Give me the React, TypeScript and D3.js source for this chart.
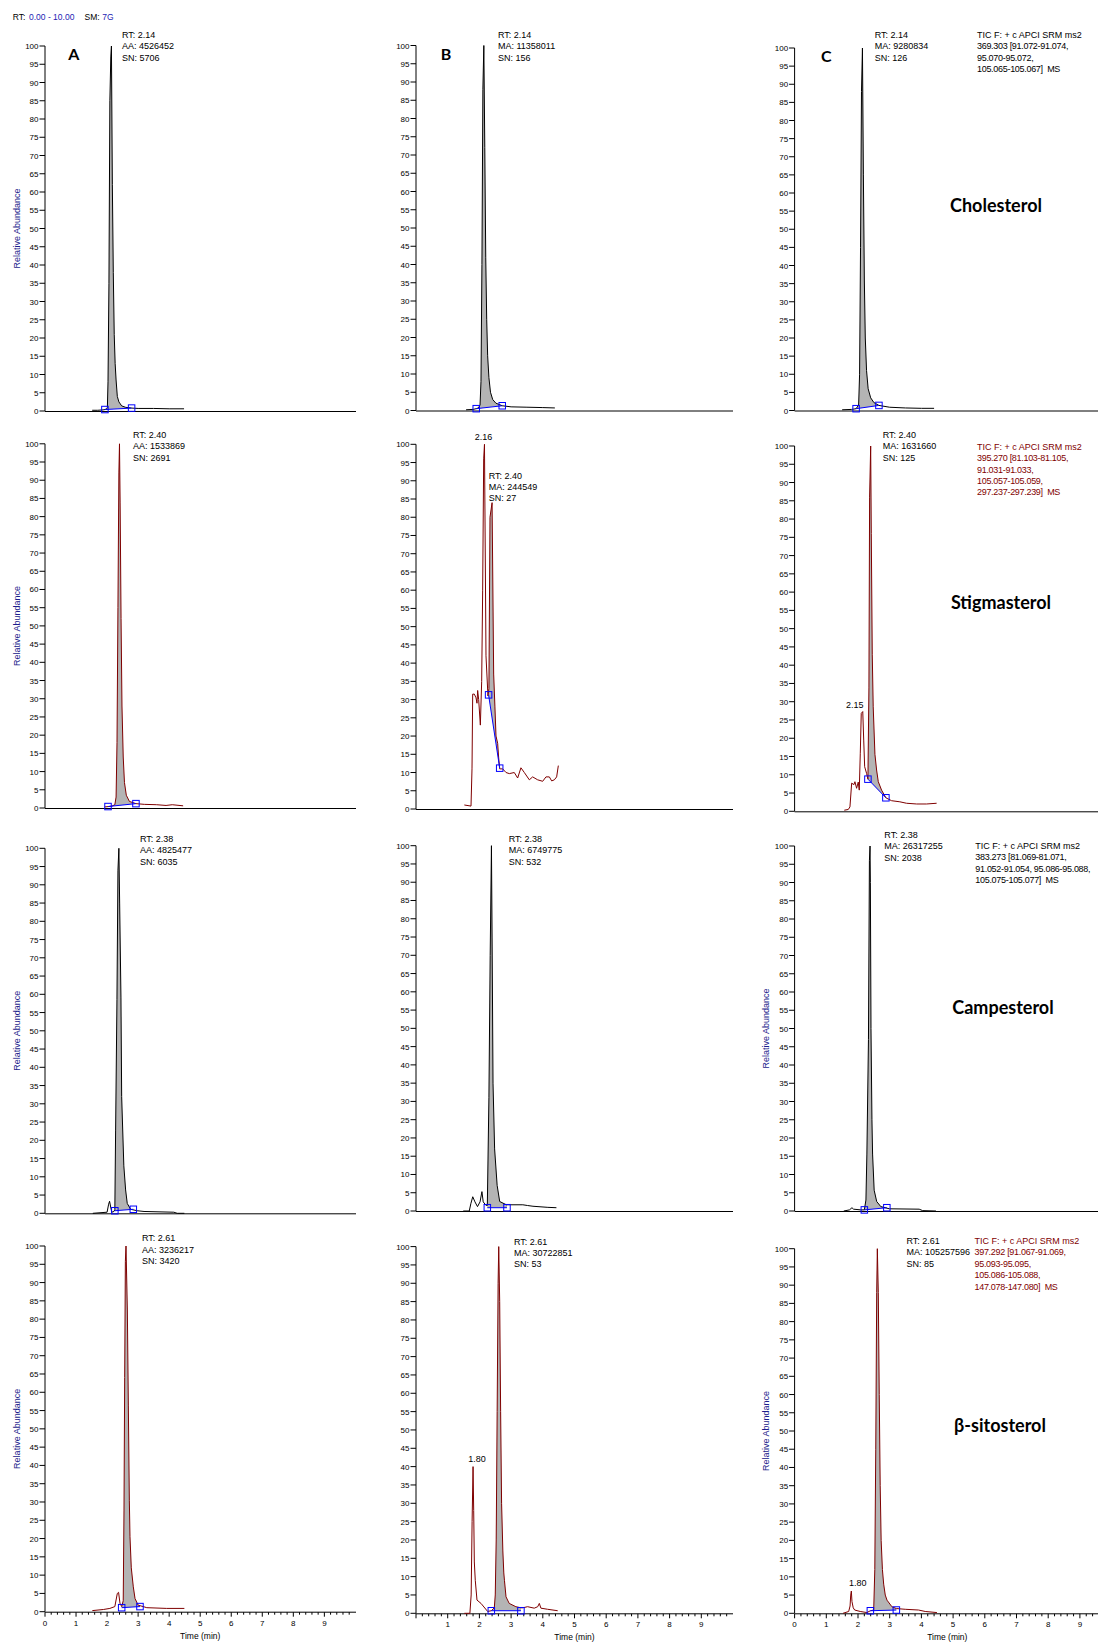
import React from "react";
import * as d3 from "d3";

type Pt = [number, number];

// ---- run header -----------------------------------------------------------
const HEADER_RANGE = "0.00 - 10.00";
const HEADER_SMOOTH = "7G";

// ---- axes -----------------------------------------------------------------
const COLUMN_LETTERS = ["A", "B", "C"];
const COMPOUNDS = ["Cholesterol", "Stigmasterol", "Campesterol", "β-sitosterol"];
const Y_TICKS = d3.range(0, 101, 5);
const X_MAJOR = d3.range(0, 10, 1);
const X_MINOR = d3.range(0, 50).map((i) => +(i * 0.2).toFixed(1));

// ---- chromatogram traces: [retention time (min), relative abundance (%)] ----
const cholA: Pt[] = [[1.52,0.2],[1.70,0.2],[1.87,0.3],[1.93,0.4],[1.99,0.6],[2.01,1],[2.03,8],[2.06,35],[2.09,85],[2.12,97],[2.14,100],[2.17,62],[2.20,38],[2.23,21],[2.26,13],[2.29,8.5],[2.33,4],[2.38,2.5],[2.47,1.4],[2.60,1.0],[2.79,0.8],[3.00,0.7],[3.50,0.7],[4.00,0.6],[4.48,0.6]];
const cholB: Pt[] = [[1.58,0.2],[1.80,0.3],[1.90,0.5],[1.97,0.7],[2.02,1.5],[2.05,8],[2.08,40],[2.11,88],[2.14,100],[2.17,72],[2.20,42],[2.23,25],[2.26,15],[2.30,9],[2.35,5],[2.42,3],[2.52,2],[2.72,1.3],[3.00,1.0],[3.50,0.9],[4.00,0.8],[4.38,0.7]];
const cholC: Pt[] = [[1.50,0.2],[1.80,0.3],[1.94,0.5],[2.02,1.5],[2.05,10],[2.08,45],[2.11,88],[2.14,100],[2.17,65],[2.20,36],[2.23,20],[2.27,11],[2.32,6],[2.40,3.5],[2.50,2.2],[2.66,1.4],[3.00,0.9],[3.50,0.7],[4.00,0.6],[4.40,0.6]];

const stigA: Pt[] = [[1.92,0.3],[2.05,0.4],[2.15,0.5],[2.25,0.9],[2.29,3],[2.32,18],[2.35,55],[2.38,92],[2.40,100],[2.42,84],[2.45,52],[2.48,28],[2.52,14],[2.56,7],[2.62,3.5],[2.72,1.8],[2.93,1.2],[3.20,1.0],[3.60,0.9],[3.90,0.7],[4.10,0.9],[4.45,0.6]];
const stigB: Pt[] = [[1.525,1.1],[1.735,0.8],[1.767,11],[1.788,31.5],[1.84,31.5],[1.893,30.5],[1.924,29],[1.945,32.5],[1.977,30],[2.03,23],[2.072,35],[2.103,60],[2.135,96],[2.16,100],[2.208,42],[2.27,31],[2.30,33],[2.334,80],[2.40,84],[2.45,37],[2.49,28],[2.524,20],[2.576,18],[2.608,14],[2.64,11],[2.734,11],[2.84,10],[2.944,9.7],[3.10,10],[3.207,8.5],[3.31,11.3],[3.417,10],[3.575,8],[3.68,8.8],[3.838,8],[3.996,7.6],[4.10,8.8],[4.206,8.8],[4.28,7.7],[4.364,8],[4.437,8.8],[4.49,11.9]];
const stigC: Pt[] = [[1.567,0.3],[1.693,0.5],[1.746,1.2],[1.80,7.7],[1.872,7.3],[1.903,8.1],[1.956,6.3],[2.008,8],[2.04,5.8],[2.072,15.9],[2.103,26.8],[2.15,27.3],[2.18,19.5],[2.21,12.2],[2.27,10.4],[2.313,8.8],[2.345,34],[2.366,86],[2.40,100],[2.419,76],[2.45,43],[2.48,28.6],[2.534,15.6],[2.587,11.3],[2.64,8.1],[2.744,5.8],[2.88,3.7],[3.06,2.9],[3.32,2.6],[3.53,2.2],[3.85,2.0],[4.16,2.0],[4.48,2.2]];

const campA: Pt[] = [[1.54,0],[2.00,0.3],[2.05,2.5],[2.08,3.3],[2.11,2],[2.15,0.3],[2.22,0.5],[2.25,1],[2.275,22.8],[2.318,58.5],[2.35,94],[2.38,100],[2.405,85],[2.447,59],[2.47,32],[2.54,13],[2.597,6.4],[2.65,2.7],[2.76,1.1],[2.97,0.7],[3.19,0.5],[4.15,0.3],[4.26,0],[4.49,0]];
const campB: Pt[] = [[1.49,0],[1.68,0],[1.73,2],[1.79,3.9],[1.86,2.5],[1.94,1.2],[2.02,2.5],[2.08,5.3],[2.12,2.5],[2.20,1.6],[2.25,1.5],[2.30,31],[2.34,70],[2.38,100],[2.40,75],[2.43,35],[2.48,17],[2.56,7],[2.64,2.6],[2.85,1.7],[3.37,1.7],[3.52,1.5],[3.69,1.3],[4.16,1.0],[4.43,0.9]];
const campC: Pt[] = [[1.55,0],[1.73,0.3],[1.81,0.9],[1.86,0.5],[2.09,0.3],[2.20,0.3],[2.25,3],[2.28,15.6],[2.33,47],[2.36,96],[2.38,100],[2.39,90],[2.41,50],[2.44,25],[2.46,15.6],[2.51,5.7],[2.59,2.6],[2.72,1.2],[2.99,0.6],[3.93,0.5],[4.04,0.1],[4.46,0]];

const sitoA: Pt[] = [[1.525,0.3],[1.88,0.6],[2.09,0.9],[2.25,1.4],[2.33,5],[2.37,5.3],[2.416,2.3],[2.47,1.4],[2.52,3],[2.545,27.8],[2.567,64],[2.589,95.8],[2.61,100],[2.653,82.5],[2.685,56.5],[2.717,30.5],[2.738,20.5],[2.78,12],[2.845,6.8],[2.90,3.6],[3.00,1.8],[3.28,1.1],[3.92,0.9],[4.49,0.9]];
const sitoB: Pt[] = [[1.525,0],[1.70,0],[1.74,5],[1.77,25],[1.80,40],[1.82,28],[1.84,14],[1.87,9],[1.924,3.6],[2.05,2.7],[2.26,0.5],[2.376,0.7],[2.47,1.5],[2.50,5],[2.53,20],[2.56,55],[2.59,90],[2.61,100],[2.64,85],[2.67,55],[2.70,30],[2.74,17],[2.77,11],[2.79,9],[2.84,4.5],[2.94,2.7],[3.15,1.8],[3.31,1.5],[3.37,1.5],[3.52,1.8],[3.73,1.4],[3.84,1.8],[3.89,2.7],[3.94,1.4],[4.15,1.1],[4.47,0.7]];
const sitoC: Pt[] = [[1.527,0],[1.706,0.5],[1.75,2],[1.77,5],[1.79,6.1],[1.81,3.2],[1.85,1.5],[1.895,0.9],[2.07,0.5],[2.28,0.2],[2.39,0.7],[2.495,0.9],[2.53,12],[2.56,45],[2.59,88],[2.61,100],[2.64,88],[2.67,60],[2.70,35],[2.73,20],[2.77,12],[2.81,8],[2.86,5],[2.915,3.6],[3.07,1.8],[3.21,1.3],[3.49,1.1],[3.91,0.9],[4.12,0.5],[4.49,0.2]];

// ---- integration baselines: [start, end] as [time, level] ----
const cholAInt: Pt[] = [[1.93, 0.4], [2.79, 0.8]];
const cholBInt: Pt[] = [[1.90, 0.5], [2.72, 1.3]];
const cholCInt: Pt[] = [[1.94, 0.5], [2.66, 1.4]];
const stigAInt: Pt[] = [[2.03, 0.4], [2.93, 1.2]];
const stigBInt: Pt[] = [[2.29, 31.3], [2.64, 11.2]];
const stigCInt: Pt[] = [[2.313, 8.8], [2.88, 3.7]];
const campAInt: Pt[] = [[2.25, 0.7], [2.845, 1.1]];
const campBInt: Pt[] = [[2.25, 0.9], [2.87, 0.9]];
const campCInt: Pt[] = [[2.20, 0.3], [2.91, 0.9]];
const sitoAInt: Pt[] = [[2.47, 1.1], [3.06, 1.4]];
const sitoBInt: Pt[] = [[2.376, 0.7], [3.31, 0.7]];
const sitoCInt: Pt[] = [[2.39, 0.7], [3.21, 0.9]];

// ---- labelled secondary peaks [time, abundance] ----
const stigBPeak: Pt = [2.16, 100];
const stigCPeak: Pt = [2.15, 27.3];
const sitoBPeak: Pt = [1.80, 40];
const sitoCPeak: Pt = [1.80, 6.1];

// ---- peak info blocks ----
const cholAInfo = ["RT: 2.14", "AA: 4526452", "SN: 5706"];
const cholBInfo = ["RT: 2.14", "MA: 11358011", "SN: 156"];
const cholCInfo = ["RT: 2.14", "MA: 9280834", "SN: 126"];
const stigAInfo = ["RT: 2.40", "AA: 1533869", "SN: 2691"];
const stigBInfo = ["RT: 2.40", "MA: 244549", "SN: 27"];
const stigCInfo = ["RT: 2.40", "MA: 1631660", "SN: 125"];
const campAInfo = ["RT: 2.38", "AA: 4825477", "SN: 6035"];
const campBInfo = ["RT: 2.38", "MA: 6749775", "SN: 532"];
const campCInfo = ["RT: 2.38", "MA: 26317255", "SN: 2038"];
const sitoAInfo = ["RT: 2.61", "AA: 3236217", "SN: 3420"];
const sitoBInfo = ["RT: 2.61", "MA: 30722851", "SN: 53"];
const sitoCInfo = ["RT: 2.61", "MA: 105257596", "SN: 85"];

// ---- scan filter descriptions ----
const cholTIC = ["TIC F: + c APCI SRM ms2", "369.303 [91.072-91.074,", "95.070-95.072,", "105.065-105.067]  MS"];
const stigTIC = ["TIC F: + c APCI SRM ms2", "395.270 [81.103-81.105,", "91.031-91.033,", "105.057-105.059,", "297.237-297.239]  MS"];
const campTIC = ["TIC F: + c APCI SRM ms2", "383.273 [81.069-81.071,", "91.052-91.054, 95.086-95.088,", "105.075-105.077]  MS"];
const sitoTIC = ["TIC F: + c APCI SRM ms2", "397.292 [91.067-91.069,", "95.093-95.095,", "105.086-105.088,", "147.078-147.080]  MS"];

// ---- layout ----
const W = 1098;
const H = 1642;
const FONT = "'Liberation Sans', Arial, sans-serif";
const TITLE_FONT = "Lato, 'Open Sans', sans-serif";
const TRACE_BLACK = "#000000";
const TRACE_RED = "#7f0000";
const FILL = "#b4b4b4";
const MARK = "#0000ff";
const NAVY = "#1c1c8c";
const HEADER_BLUE = "#1c1cb4";

const COLS = [
  { x0: 45, unit: 31.04, axisEnd: 356, letter: [73.7, 60] },
  { x0: 416, unit: 31.7, axisEnd: 733, letter: [446, 60] },
  { x0: 794.6, unit: 31.7, axisEnd: 1098, letter: [826.3, 62] },
];

// [top (100 %), bottom (0 %)] for each row / column
const PANEL_Y = [
  [[46, 411], [45.5, 410.5], [48, 410.5]],
  [[443.8, 808], [444.3, 809], [446, 811.3]],
  [[848.3, 1213.3], [845.7, 1211], [846, 1211]],
  [[1246, 1611.7], [1246.6, 1613.3], [1248.7, 1613.3]],
];

type Panel = {
  row: number;
  col: number;
  trace: Pt[];
  integ: Pt[];
  info: string[];
  infoPos: [number, number];
  tic?: string[];
  ticPos?: [number, number];
  peak?: Pt;
  peakDx?: number;
  peakDy?: number;
};

const PANELS: Panel[] = [
  { row: 0, col: 0, trace: cholA, integ: cholAInt, info: cholAInfo, infoPos: [122, 38] },
  { row: 0, col: 1, trace: cholB, integ: cholBInt, info: cholBInfo, infoPos: [498, 38] },
  { row: 0, col: 2, trace: cholC, integ: cholCInt, info: cholCInfo, infoPos: [874.7, 38], tic: cholTIC, ticPos: [977, 38] },
  { row: 1, col: 0, trace: stigA, integ: stigAInt, info: stigAInfo, infoPos: [133, 438] },
  { row: 1, col: 1, trace: stigB, integ: stigBInt, info: stigBInfo, infoPos: [488.7, 478.5], peak: stigBPeak, peakDx: -1, peakDy: 4 },
  { row: 1, col: 2, trace: stigC, integ: stigCInt, info: stigCInfo, infoPos: [882.7, 438], tic: stigTIC, ticPos: [977, 449.7], peak: stigCPeak, peakDx: -8, peakDy: 4 },
  { row: 2, col: 0, trace: campA, integ: campAInt, info: campAInfo, infoPos: [140, 842] },
  { row: 2, col: 1, trace: campB, integ: campBInt, info: campBInfo, infoPos: [508.7, 842] },
  { row: 2, col: 2, trace: campC, integ: campCInt, info: campCInfo, infoPos: [884.3, 838], tic: campTIC, ticPos: [975.3, 848.7] },
  { row: 3, col: 0, trace: sitoA, integ: sitoAInt, info: sitoAInfo, infoPos: [142, 1241.3] },
  { row: 3, col: 1, trace: sitoB, integ: sitoBInt, info: sitoBInfo, infoPos: [514, 1244.5], peak: sitoBPeak, peakDx: 4, peakDy: 5 },
  { row: 3, col: 2, trace: sitoC, integ: sitoCInt, info: sitoCInfo, infoPos: [906.5, 1244], tic: sitoTIC, ticPos: [974.5, 1244], peak: sitoCPeak, peakDx: 6, peakDy: 5 },
];

const COMPOUND_POS: [number, number][] = [[996, 212], [1001, 609], [1003, 1014], [1000, 1432]];
const RA_LABEL_PANELS: [number, number][] = [[0, 0], [1, 0], [2, 0], [3, 0], [2, 2], [3, 2]];
const RA_X = [17, 0, 766];

const LINE_H = 11.4;

function interp(trace: Pt[], t: number): number {
  for (let i = 1; i < trace.length; i++) {
    const [t0, v0] = trace[i - 1];
    const [t1, v1] = trace[i];
    if (t >= t0 && t <= t1) return v0 + ((v1 - v0) * (t - t0)) / (t1 - t0);
  }
  return trace[trace.length - 1][1];
}

function PanelView({ p }: { p: Panel }) {
  const col = COLS[p.col];
  const [top, bottom] = PANEL_Y[p.row][p.col];
  const x = d3.scaleLinear().domain([0, 10]).range([col.x0, col.x0 + 10 * col.unit]);
  const y = d3.scaleLinear().domain([0, 100]).range([bottom, top]);
  const red = p.row % 2 === 1;
  const traceColor = red ? TRACE_RED : TRACE_BLACK;

  const line = d3.line<Pt>().x((d) => x(d[0])).y((d) => y(d[1]));

  // integrated region between the trace and the straight baseline
  const [[ts, vs], [te, ve]] = p.integ;
  const base = d3.scaleLinear().domain([ts, te]).range([vs, ve]);
  const inside: Pt[] = [[ts, interp(p.trace, ts)], ...p.trace.filter((d) => d[0] > ts && d[0] < te), [te, interp(p.trace, te)]];
  const area = d3.area<Pt>().x((d) => x(d[0])).y0((d) => y(base(d[0]))).y1((d) => y(Math.max(d[1], base(d[0]))));

  const isBottom = p.row === 3;
  const ms = 6.5;

  return (
    <g>
      {/* y axis */}
      <line x1={col.x0} x2={col.x0} y1={y(100)} y2={y(0)} stroke="#000" strokeWidth={1} />
      {Y_TICKS.map((v) => (
        <g key={v}>
          <line x1={col.x0 - 5.5} x2={col.x0} y1={y(v)} y2={y(v)} stroke="#000" strokeWidth={1} />
          <text x={col.x0 - 6.5} y={y(v) + 3} fontSize={8} textAnchor="end" fontFamily={FONT} fill="#000">
            {v}
          </text>
        </g>
      ))}
      {/* x axis */}
      <line x1={col.x0} x2={col.axisEnd} y1={y(0) + 0.5} y2={y(0) + 0.5} stroke="#000" strokeWidth={1} />
      {isBottom &&
        X_MINOR.filter((t) => x(t) <= col.axisEnd).map((t) => {
          const major = Math.abs(t - Math.round(t)) < 1e-6;
          return (
            <line key={t} x1={x(t)} x2={x(t)} y1={y(0) + 0.5} y2={y(0) + (major ? 5 : 3)} stroke="#000" strokeWidth={1} />
          );
        })}
      {isBottom &&
        X_MAJOR.filter((t) => !(p.col === 1 && t === 0)).map((t) => (
          <text key={t} x={x(t)} y={y(0) + 14} fontSize={8} textAnchor="middle" fontFamily={FONT} fill="#000">
            {t}
          </text>
        ))}
      {isBottom && (
        <text x={(col.x0 + Math.min(col.axisEnd, col.x0 + 10 * col.unit)) / 2 + (p.col === 2 ? 1 : 0)} y={y(0) + 27} fontSize={8.5} textAnchor="middle" fontFamily={FONT} fill="#000">
          Time (min)
        </text>
      )}

      {/* integrated area */}
      <path d={area(inside) || ""} fill={FILL} stroke="none" />
      {/* trace */}
      <path d={line(p.trace) || ""} fill="none" stroke={traceColor} strokeWidth={1} strokeLinejoin="miter" />
      {/* baseline and markers */}
      <line x1={x(ts)} y1={y(vs)} x2={x(te)} y2={y(ve)} stroke={MARK} strokeWidth={1} />
      {p.integ.map(([t, v], i) => (
        <rect key={i} x={x(t) - ms / 2} y={y(v) - ms / 2} width={ms} height={ms} fill="none" stroke={MARK} strokeWidth={1} />
      ))}

      {/* peak info */}
      <text fontSize={9} fontFamily={FONT} fill="#000">
        {p.info.map((s, i) => (
          <tspan key={i} x={p.infoPos[0]} y={p.infoPos[1] + i * LINE_H}>
            {s}
          </tspan>
        ))}
      </text>
      {p.tic && p.ticPos && (
        <text fontSize={9} fontFamily={FONT} fill={red ? TRACE_RED : "#000"} style={{ whiteSpace: "pre" }}>
          {p.tic.map((s, i) => (
            <tspan key={i} x={p.ticPos![0]} y={p.ticPos![1] + i * LINE_H} letterSpacing={i === 0 ? 0 : -0.3}>
              {s}
            </tspan>
          ))}
        </text>
      )}
      {p.peak && (
        <text x={x(p.peak[0]) + (p.peakDx || 0)} y={y(p.peak[1]) - (p.peakDy || 0)} fontSize={9} textAnchor="middle" fontFamily={FONT} fill="#000">
          {p.peak[0].toFixed(2)}
        </text>
      )}
    </g>
  );
}

export default function App() {
  return (
    <div style={{ position: "absolute", left: 0, top: 0, width: W, height: H, background: "#fff" }}>
      <svg width={W} height={H} viewBox={`0 0 ${W} ${H}`} style={{ display: "block" }}>
        <rect width={W} height={H} fill="#fff" />
        {/* header: time range and smoothing */}
        <text x={12.7} y={20} fontSize={8.5} fontFamily={FONT} fill="#000">RT:</text>
        <text x={29} y={20} fontSize={8.5} fontFamily={FONT} fill={HEADER_BLUE}>{HEADER_RANGE}</text>
        <text x={84.5} y={20} fontSize={8.5} fontFamily={FONT} fill="#000">SM:</text>
        <text x={102.3} y={20} fontSize={8.5} fontFamily={FONT} fill={HEADER_BLUE}>{HEADER_SMOOTH}</text>

        {PANELS.map((p, i) => (
          <PanelView key={i} p={p} />
        ))}

        {/* column letters */}
        {COLUMN_LETTERS.map((s, i) => (
          <text key={s} x={COLS[i].letter[0]} y={COLS[i].letter[1]} fontSize={16} fontWeight={700} textAnchor="middle" fontFamily={TITLE_FONT} fill="#000">
            {s}
          </text>
        ))}

        {/* compound names */}
        {COMPOUNDS.map((s, i) => (
          <text key={s} x={COMPOUND_POS[i][0]} y={COMPOUND_POS[i][1]} fontSize={18} fontWeight={700} textAnchor="middle" fontFamily={TITLE_FONT} fill="#000">
            {s}
          </text>
        ))}

        {/* y-axis titles */}
        {RA_LABEL_PANELS.map(([r, c]) => {
          const [top, bottom] = PANEL_Y[r][c];
          const cy = (top + bottom) / 2;
          const cx = RA_X[c];
          return (
            <text key={`${r}-${c}`} transform={`translate(${cx},${cy}) rotate(-90)`} fontSize={9} textAnchor="middle" dy={3} fontFamily={FONT} fill={NAVY}>
              Relative Abundance
            </text>
          );
        })}
      </svg>
    </div>
  );
}
